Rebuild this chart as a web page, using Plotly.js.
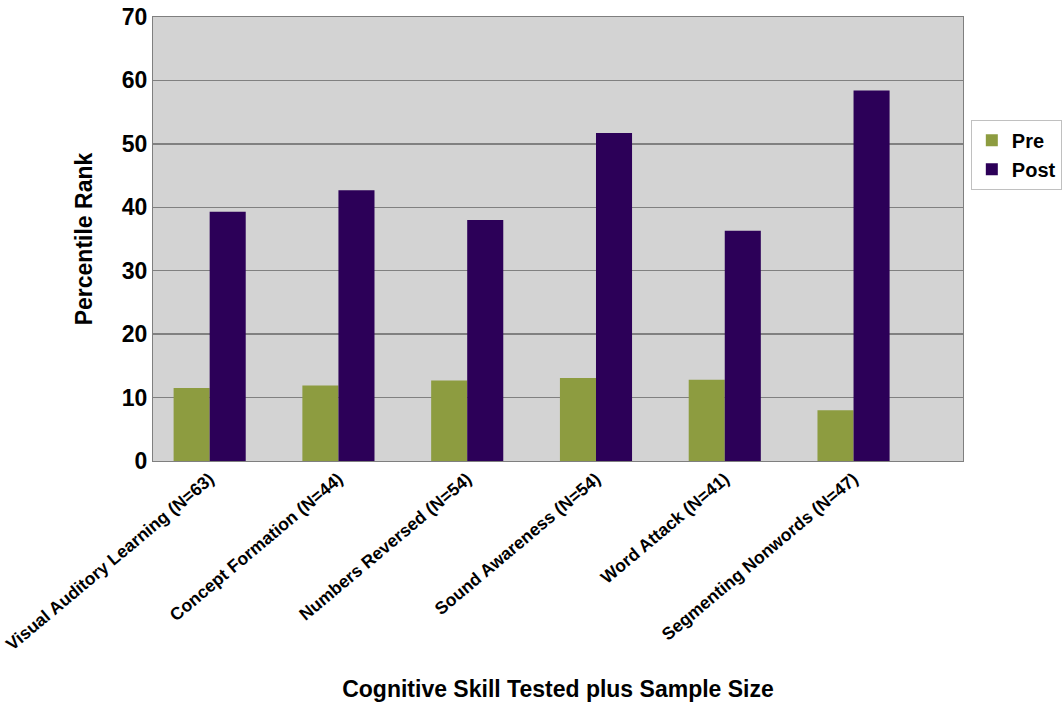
<!DOCTYPE html>
<html>
<head>
<meta charset="utf-8">
<script src="https://cdn.plot.ly/plotly-3.0.1.min.js"></script>
<style>html,body{margin:0;padding:0;background:#fff;}#chart{width:1063px;height:708px;}</style>
</head>
<body>
<div id="chart"></div>
<script>
var categories = ["Visual Auditory Learning (N=63)", "Concept Formation (N=44)", "Numbers Reversed (N=54)", "Sound Awareness (N=54)", "Word Attack (N=41)", "Segmenting Nonwords (N=47)"];
var preValues = [11.5, 11.9, 12.7, 13.1, 12.8, 8.0];
var postValues = [39.3, 42.7, 38.0, 51.7, 36.3, 58.4];
var yTicks = [0, 10, 20, 30, 40, 50, 60, 70];

var FONT = "'Liberation Sans', Arial, sans-serif";

var data = [
  {type: "bar", name: "Pre", x: categories, y: preValues, marker: {color: "#8d9c40"}},
  {type: "bar", name: "Post", x: categories, y: postValues, marker: {color: "#2c0058"}}
];

var layout = {
  width: 1063, height: 708,
  margin: {l: 153, r: 100, t: 17, b: 247, autoexpand: false},
  paper_bgcolor: "#ffffff",
  plot_bgcolor: "#d3d3d3",
  barmode: "group",
  bargap: 0.44,
  bargroupgap: 0,
  font: {family: FONT, color: "#000"},
  showlegend: true,
  legend: {
    x: 1.122, xanchor: "right", y: 0.69, yanchor: "middle",
    bgcolor: "#ffffff", bordercolor: "#c0c0c0", borderwidth: 1,
    font: {family: FONT, size: 20, weight: "bold", color: "#000"},
    itemwidth: 30, tracegroupgap: 0
  },
  xaxis: {
    type: "category",
    range: [-0.44, 5.85],
    tickangle: -40,
    tickfont: {family: FONT, size: 17.5, weight: "bold", color: "#000"},
    showgrid: false,
    showline: true, linecolor: "#7f7f7f", linewidth: 1, mirror: true,
    ticks: "",
    title: {text: "Cognitive Skill Tested plus Sample Size", font: {family: FONT, size: 23, weight: "bold", color: "#000"}, standoff: 27}
  },
  yaxis: {
    range: [0, 70],
    tickvals: yTicks,
    ticktext: yTicks.map(String),
    tickfont: {family: FONT, size: 23, weight: "bold", color: "#000"},
    showgrid: true, gridcolor: "#808080", gridwidth: 1.5,
    zeroline: false,
    showline: true, linecolor: "#7f7f7f", linewidth: 1, mirror: true,
    ticks: "", ticklen: 0,
    title: {text: "Percentile Rank", font: {family: FONT, size: 23, weight: "bold", color: "#000"}, standoff: 22}
  }
};

Plotly.newPlot("chart", data, layout, {displayModeBar: false, staticPlot: true});
</script>
</body>
</html>
